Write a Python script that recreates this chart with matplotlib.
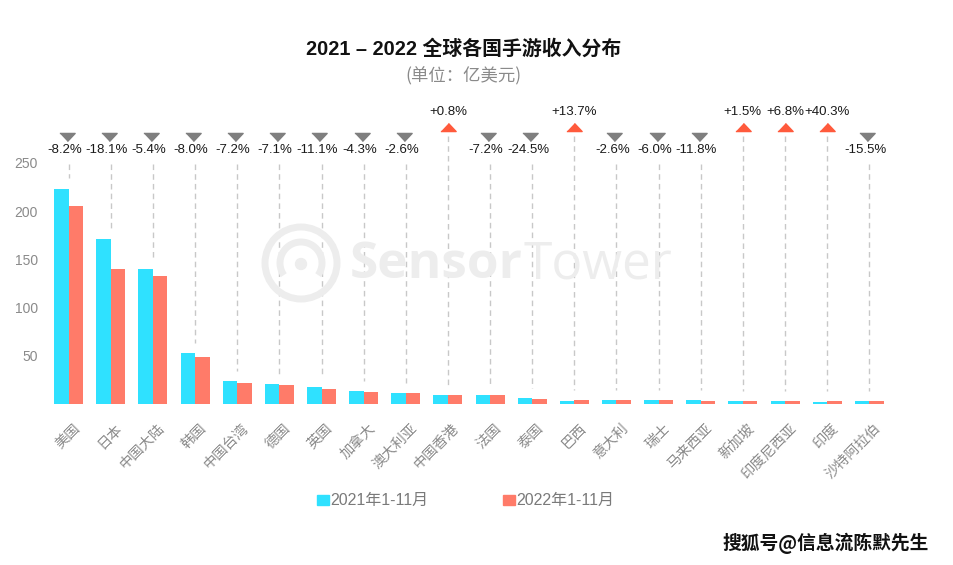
import matplotlib
matplotlib.use("Agg")
import matplotlib.pyplot as plt
from matplotlib.patches import Rectangle, Arc, Ellipse
from matplotlib.transforms import ScaledTranslation
import numpy as np

plt.rcParams['font.family'] = ['Liberation Sans', 'Noto Sans CJK SC', 'DejaVu Sans']

categories = ['美国', '日本', '中国大陆', '韩国', '中国台湾', '德国', '英国', '加拿大', '澳大利亚', '中国香港',
              '法国', '泰国', '巴西', '意大利', '瑞士', '马来西亚', '新加坡', '印度尼西亚', '印度', '沙特阿拉伯']
rev_2021 = [223.5, 170.8, 140.0, 52.7, 23.6, 20.8, 17.4, 13.5, 11.4, 9.4,
            9.7, 6.2, 3.6, 4.2, 4.1, 4.0, 3.3, 2.6, 1.9, 3.3]
rev_2022 = [205.2, 140.0, 132.5, 48.5, 21.8, 19.4, 15.4, 12.9, 11.1, 9.5,
            9.0, 4.7, 4.1, 4.1, 3.85, 3.5, 3.35, 2.8, 2.7, 2.8]
change_pct = [-8.2, -18.1, -5.4, -8.0, -7.2, -7.1, -11.1, -4.3, -2.6, 0.8,
              -7.2, -24.5, 13.7, -2.6, -6.0, -11.8, 1.5, 6.8, 40.3, -15.5]
y_ticks = [50, 100, 150, 200, 250]
series_names = ['2021年1-11月', '2022年1-11月']

C21 = '#2FE1FF'
C22 = '#FF7B69'
UP = '#FF5A3C'
DOWN = '#7F7F7F'

W, H = 954, 565
fig = plt.figure(figsize=(W / 100, H / 100), dpi=100)
ax = fig.add_axes([47.6 / W, (H - 404) / H, (890.4 - 47.6) / W, (404 - 163) / H])

x = np.arange(len(categories))
bw = 0.345
ax.bar(x - bw / 2, rev_2021, width=bw, color=C21, zorder=3)
ax.bar(x + bw / 2, rev_2022, width=bw, color=C22, zorder=3)

ax.set_xlim(-0.5, len(categories) - 0.5)
ax.set_ylim(0, 250)
ax.set_yticks(y_ticks)
ax.set_yticklabels([str(v) for v in y_ticks], color='#8a8a8a', fontsize=10)
ax.tick_params(axis='y', length=0, pad=7)
ax.set_xticks(x)
ax.set_xticklabels(categories, rotation=45, ha='right', va='top', rotation_mode='anchor',
                   color='#8a8a8a', fontsize=10.3)
ax.tick_params(axis='x', length=0, pad=12.5)
shift = ScaledTranslation(4 / 100, 0, fig.dpi_scale_trans)
for lbl in ax.get_xticklabels():
    lbl.set_transform(lbl.get_transform() + shift)
for s in ax.spines.values():
    s.set_visible(False)

down_marker = [(-1, 0.53), (1, 0.53), (0, -0.53)]
up_marker = [(-1, -0.53), (1, -0.53), (0, 0.53)]
for i, c in enumerate(change_pct):
    top = max(rev_2021[i], rev_2022[i]) + 10.5
    label = ('+' if c > 0 else '') + f'{c:.1f}%'
    if c > 0:
        ax.plot([i, i], [277.5, top], ls=(0, (4, 3)), color='#c8c8c8', lw=1, zorder=1, clip_on=False)
        ax.plot(i, 287, marker=up_marker, ms=11, color=UP, clip_on=False, zorder=4)
        ax.text(i, 302.5, label, ha='center', va='center', fontsize=9.5, color='#1a1a1a', clip_on=False)
    else:
        ax.plot([i, i], [248.5, top], ls=(0, (4, 3)), color='#c8c8c8', lw=1, zorder=1, clip_on=False)
        ax.plot(i - 0.05, 277, marker=down_marker, ms=11, color=DOWN, clip_on=False, zorder=4)
        ax.text(i - 0.1, 263.5, label, ha='center', va='center', fontsize=9.5, color='#1a1a1a', clip_on=False)

# Sensor Tower watermark (light)
wm = '#ededed'
fig.text(523 / W, 1 - 265 / H, 'Sensor', ha='right', va='center', fontsize=37, fontweight='bold',
         family='Open Sans', color=wm, zorder=0)
fig.text(524 / W, 1 - 265 / H, 'Tower', ha='left', va='center', fontsize=37,
         family='Open Sans', color=wm, zorder=0)
cx, cy = 301, H - 263
fig.patches.append(Ellipse((cx / W, cy / H), 72 / W, 72 / H, transform=fig.transFigure,
                           fill=False, ec=wm, lw=5, zorder=0))
fig.patches.append(Arc((cx / W, cy / H), 42 / W, 42 / H, theta1=-50, theta2=230, transform=fig.transFigure,
                       ec=wm, lw=5, zorder=0))
fig.add_artist(plt.Line2D([cx / W, cx / W], [(cy - 32) / H, (cy - 2) / H], transform=fig.transFigure,
                          color=wm, lw=6, zorder=0))
fig.patches.append(Ellipse((cx / W, (cy - 1) / H), 11 / W, 11 / H, transform=fig.transFigure,
                           color=wm, zorder=0))

# Title
fig.text(464 / W, 1 - 49 / H, '2021 – 2022 全球各国手游收入分布', ha='center', va='center',
         fontsize=14.3, fontweight='bold', family=['Liberation Sans', 'Noto Sans CJK SC'], color='#111111')
fig.text(463.5 / W, 1 - 76 / H, '(单位：亿美元)', ha='center', va='center',
         fontsize=12.5, family=['Noto Sans CJK SC'], color='#8a8a8a')

# Legend
for (lx, name, col) in [(317, series_names[0], C21), (503, series_names[1], C22)]:
    fig.patches.append(Rectangle((lx / W, (H - 505) / H), 12 / W, 10 / H, transform=fig.transFigure,
                                 color=col))
    fig.text((lx + 13) / W, 1 - 500 / H, name, ha='left', va='center', fontsize=11.5, color='#7a7a7a')

# Bottom-right source watermark
fig.text(826 / W, 1 - 543 / H, '搜狐号@信息流陈默先生', ha='center', va='center', fontsize=13.5,
         fontweight='bold', family=['Noto Sans CJK SC', 'DejaVu Sans'], color='#111111')

fig.savefig('out.png', dpi=100, facecolor='white')
